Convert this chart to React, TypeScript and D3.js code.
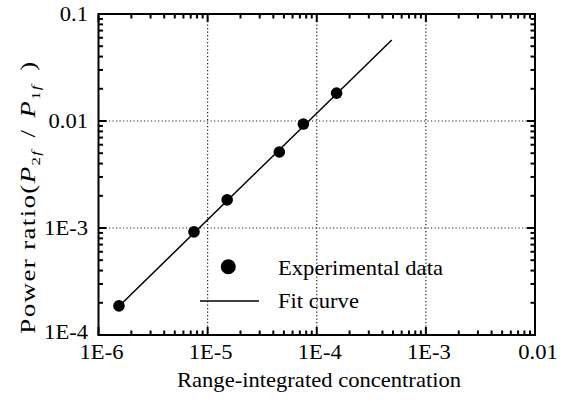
import React from "react";
import * as d3 from "d3";

const concentration = [1.54e-6, 7.5e-6, 1.51e-5, 4.54e-5, 7.54e-5, 1.52e-4];
const powerRatio = [1.87e-4, 9.2e-4, 1.83e-3, 5.13e-3, 9.37e-3, 1.82e-2];
const fitX = [1.55e-6, 4.87e-4];
const fitY = [1.87e-4, 5.71e-2];
const xTickValues = [1e-6, 1e-5, 1e-4, 1e-3, 1e-2];
const xTickLabels = ["1E-6", "1E-5", "1E-4", "1E-3", "0.01"];
const yTickValues = [1e-4, 1e-3, 1e-2, 1e-1];
const yTickLabels = ["1E-4", "1E-3", "0.01", "0.1"];
const legendLabels = ["Experimental data", "Fit curve"];

const W = 571, H = 399;
const L = 98.5, R = 535, T = 14, B = 335;
const FONT = "'Liberation Serif', 'Times New Roman', serif";
const SX = 1.13;

function minorTicks(domain: number[]) {
  const out: number[] = [];
  for (let e = Math.round(Math.log10(domain[0])); e < Math.round(Math.log10(domain[1])); e++) {
    for (let m = 2; m <= 9; m++) out.push(m * Math.pow(10, e));
  }
  return out;
}

function SText({ x, y, anchor, size, children }: any) {
  return (
    <text
      transform={`translate(${x},${y}) scale(${SX},1)`}
      textAnchor={anchor}
      fontSize={size}
      fontFamily={FONT}
      fill="#000"
    >
      {children}
    </text>
  );
}

export default function App() {
  const x = d3.scaleLog().domain([1e-6, 1e-2]).range([L, R]);
  const y = d3.scaleLog().domain([1e-4, 1e-1]).range([B, T]);
  const line = d3.line<number>().x((_, i) => x(fitX[i])).y((d) => y(d));
  const xMinor = minorTicks(x.domain());
  const yMinor = minorTicks(y.domain());
  const majLen = 8, minLen = 4.5;
  const tickStroke = 2;

  return (
    <svg width={W} height={H} style={{ position: "absolute", left: 0, top: 0 }}>
      <rect width={W} height={H} fill="#fff" />
      {xTickValues.slice(1, -1).map((v) => (
        <line key={"gx" + v} x1={x(v)} x2={x(v)} y1={T} y2={B} stroke="#222" strokeWidth={1.2} strokeDasharray="1.2,2.3" />
      ))}
      {yTickValues.slice(1, -1).map((v) => (
        <line key={"gy" + v} x1={L} x2={R} y1={y(v)} y2={y(v)} stroke="#222" strokeWidth={1.2} strokeDasharray="1.2,2.3" />
      ))}
      {xTickValues.map((v) => (
        <g key={"xt" + v}>
          <line x1={x(v)} x2={x(v)} y1={B} y2={B - majLen} stroke="#000" strokeWidth={tickStroke} />
          <line x1={x(v)} x2={x(v)} y1={T} y2={T + majLen} stroke="#000" strokeWidth={tickStroke} />
        </g>
      ))}
      {xMinor.map((v) => (
        <g key={"xm" + v}>
          <line x1={x(v)} x2={x(v)} y1={B} y2={B - minLen} stroke="#000" strokeWidth={tickStroke} />
          <line x1={x(v)} x2={x(v)} y1={T} y2={T + minLen} stroke="#000" strokeWidth={tickStroke} />
        </g>
      ))}
      {yTickValues.map((v) => (
        <g key={"yt" + v}>
          <line x1={L} x2={L + majLen} y1={y(v)} y2={y(v)} stroke="#000" strokeWidth={tickStroke} />
          <line x1={R} x2={R - majLen} y1={y(v)} y2={y(v)} stroke="#000" strokeWidth={tickStroke} />
        </g>
      ))}
      {yMinor.map((v) => (
        <g key={"ym" + v}>
          <line x1={L} x2={L + minLen} y1={y(v)} y2={y(v)} stroke="#000" strokeWidth={tickStroke} />
          <line x1={R} x2={R - minLen} y1={y(v)} y2={y(v)} stroke="#000" strokeWidth={tickStroke} />
        </g>
      ))}
      <rect x={L} y={T} width={R - L} height={B - T} fill="none" stroke="#000" strokeWidth={2} />
      <path d={line(fitY) || ""} fill="none" stroke="#000" strokeWidth={1.5} />
      {concentration.map((c, i) => (
        <circle key={"p" + i} cx={x(c)} cy={y(powerRatio[i])} r={5.8} fill="#000" />
      ))}
      {xTickValues.map((v, i) => (
        <SText key={"xl" + v} x={x(v) + 3} y={359} anchor="middle" size={20}>{xTickLabels[i]}</SText>
      ))}
      {yTickValues.map((v, i) => (
        <SText key={"yl" + v} x={88} y={y(v) + (i === 0 ? 4 : 7)} anchor="end" size={20}>{yTickLabels[i]}</SText>
      ))}
      <SText x={319} y={387} anchor="middle" size={20}>Range-integrated concentration</SText>
      <g transform={`translate(35,197) rotate(-90)`}>
        <text transform={`scale(1.35,1)`} textAnchor="middle" fontSize={20} letterSpacing={1} fontFamily={FONT} fill="#000">
          Power ratio(<tspan fontStyle="italic">P</tspan>
          <tspan fontSize={12.5} dy={5}>2<tspan fontStyle="italic">f</tspan></tspan>
          <tspan dy={-5} dx={3}> / </tspan>
          <tspan fontStyle="italic" dx={2}>P</tspan>
          <tspan fontSize={12.5} dy={5}>1<tspan fontStyle="italic">f</tspan></tspan>
          <tspan dy={-5} dx={4}> )</tspan>
        </text>
      </g>
      <circle cx={228.3} cy={266.7} r={7.5} fill="#000" />
      <SText x={278} y={275} anchor="start" size={20}>{legendLabels[0]}</SText>
      <line x1={200} x2={259} y1={301} y2={301} stroke="#000" strokeWidth={1.5} />
      <SText x={278} y={308} anchor="start" size={20}>{legendLabels[1]}</SText>
    </svg>
  );
}
